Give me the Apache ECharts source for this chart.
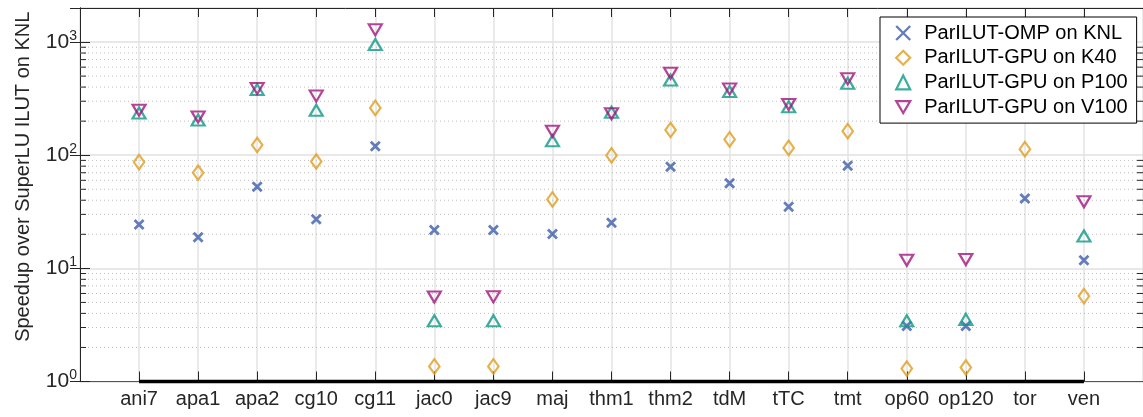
<!DOCTYPE html>
<html>
<head>
<meta charset="utf-8">
<script src="https://cdn.jsdelivr.net/npm/echarts@6/dist/echarts.min.js"></script>
<style>
html,body{margin:0;padding:0;background:#fff;}
#chart{width:1143px;height:417px;}
</style>
</head>
<body>
<div id="chart"></div>
<script>
// ---- data ----
const categories = ['ani7','apa1','apa2','cg10','cg11','jac0','jac9','maj','thm1','thm2','tdM','tTC','tmt','op60','op120','tor','ven'];
const knl  = [24.4, 18.8, 52.6, 27.1, 120, 21.8, 21.8, 20.1, 25.3, 79, 56.4, 35, 80.7, 3.1, 3.1, 41.5, 11.8];
const k40  = [87, 70, 123, 88, 262, 1.36, 1.36, 40.7, 99.6, 167, 138, 116, 163, 1.30, 1.33, 113, 5.69];
const p100 = [236, 205, 380, 250, 953, 3.44, 3.44, 134, 240, 461, 366, 268, 433, 3.44, 3.54, null, 19.3];
const v100 = [250, 218, 388, 333, 1282, 5.58, 5.6, 163, 233, 531, 384, 281, 473, 11.8, 12.0, null, 38.8];
const seriesNames = ['ParILUT-OMP on KNL','ParILUT-GPU on K40','ParILUT-GPU on P100','ParILUT-GPU on V100'];
const yMin = 1, yMax = 2000;
const minorVals = [];
[1,10,100,1000].forEach(d => { for (let m = 2; m <= 9; m++) { if (d*m < yMax) minorVals.push(d*m); } });

const FONT = "'Liberation Sans', Arial, Helvetica, sans-serif";
const AX = '#262626';
const toXY = arr => arr.map((v,i) => [i+1, v]).filter(p => p[1] != null);

const chart = echarts.init(document.getElementById('chart'), null, {renderer:'canvas'});

function markerSeries(name, data, symbol, size, color, bw){
  return {
    name: name, type: 'scatter', data: toXY(data),
    symbol: symbol, symbolSize: size,
    itemStyle: {color: 'rgba(0,0,0,0)', borderColor: color, borderWidth: bw},
    z: 5, silent: true, clip: false
  };
}

const option = {
  animation: false,
  backgroundColor: '#fff',
  textStyle: {fontFamily: FONT},
  grid: {left: 80, top: 8, width: 1065.6, height: 373.5, containLabel: false},
  legend: {
    data: [
      {name: seriesNames[0], itemStyle: {borderWidth: 2.4}},
      {name: seriesNames[1], itemStyle: {borderWidth: 2.2}},
      {name: seriesNames[2], itemStyle: {borderWidth: 2.2}},
      {name: seriesNames[3], itemStyle: {borderWidth: 2.2}}
    ],
    orient: 'vertical',
    left: 880, top: 17,
    backgroundColor: '#fff',
    borderColor: '#000', borderWidth: 1, borderRadius: 0,
    padding: [5, 9, 5, 15],
    itemWidth: 14, itemHeight: 14, itemGap: 2.7,
    selectedMode: false,
    textStyle: {fontSize: 20, color: '#000', fontFamily: FONT, lineHeight: 22, padding: [0,0,0,9]}
  },
  xAxis: [{
    type: 'value', min: 0, max: categories.length + 1, interval: 1, position: 'bottom',
    axisLine: {show: true, lineStyle: {color: '#555', width: 1}},
    axisTick: {show: true, inside: true, length: 10, lineStyle: {color: AX, width: 1}},
    axisLabel: {
      show: true, margin: 8, fontSize: 20, color: '#262626', fontFamily: FONT,
      showMinLabel: false, showMaxLabel: false,
      formatter: v => categories[Math.round(v) - 1] || ''
    },
    splitLine: {show: true, lineStyle: {color: '#e3e3e3', width: 1.5}}
  }, {
    type: 'value', min: 0, max: categories.length + 1, interval: 1, position: 'top',
    axisLine: {show: true, lineStyle: {color: AX, width: 1}},
    axisTick: {show: true, inside: true, length: 9, lineStyle: {color: AX, width: 1}},
    axisLabel: {show: false},
    splitLine: {show: false}
  }],
  yAxis: [{
    type: 'log', logBase: 10, min: yMin, max: yMax, position: 'left',
    name: 'Speedup over SuperLU ILUT on KNL',
    nameLocation: 'middle', nameGap: 47,
    nameTextStyle: {fontSize: 20, color: '#262626', fontFamily: FONT, padding: [0,0,0,36]},
    axisLine: {show: true, lineStyle: {color: AX, width: 1}},
    axisTick: {show: true, inside: true, length: 10, lineStyle: {color: AX, width: 1}},
    axisLabel: {
      show: true, margin: 3, color: '#262626', fontFamily: FONT,
      formatter: v => {
        const l = Math.log10(v), e = Math.round(l);
        if (Math.abs(l - e) > 1e-6) return '';
        return '{b|10}{s|' + e + '}';
      },
      rich: {
        b: {fontSize: 21, lineHeight: 26, color: '#262626', fontFamily: FONT},
        s: {fontSize: 14, lineHeight: 14, verticalAlign: 'top', color: '#262626', fontFamily: FONT}
      }
    },
    splitLine: {show: true, lineStyle: {color: '#e1e1e1', width: 1.5}}
  }, {
    type: 'log', logBase: 10, min: yMin, max: yMax, position: 'right',
    axisLine: {show: true, lineStyle: {color: AX, width: 1}},
    axisTick: {show: true, inside: true, length: 10, lineStyle: {color: AX, width: 1}},
    axisLabel: {show: false},
    splitLine: {show: false}
  }],
  series: [
    {
      name: 'minor', type: 'custom', silent: true, z: 1, clip: false,
      data: minorVals.map(v => [0, v]),
      encode: {x: 0, y: 1},
      renderItem: (params, api) => {
        const cs = params.coordSys;
        const y = api.coord([0, api.value(1)])[1];
        return {type: 'group', children: [
          {type: 'line', shape: {x1: cs.x, y1: y, x2: cs.x + cs.width, y2: y},
           style: {stroke: '#bdbdbd', lineWidth: 1, lineDash: [1, 3]}},
          {type: 'line', shape: {x1: cs.x, y1: y, x2: cs.x + 6, y2: y},
           style: {stroke: AX, lineWidth: 1}},
          {type: 'line', shape: {x1: cs.x + cs.width - 6, y1: y, x2: cs.x + cs.width, y2: y},
           style: {stroke: AX, lineWidth: 1}}
        ]};
      }
    },
    {
      name: 'baseline', type: 'line', silent: true, z: 4, clip: false,
      symbol: 'none',
      data: [[1, yMin], [categories.length, yMin]],
      lineStyle: {color: '#000', width: 3.5}
    },
    markerSeries(seriesNames[0], knl, 'path://M0,0L10,10M10,0L0,10', [9, 9], '#3d5daa', 2.8),
    markerSeries(seriesNames[1], k40, 'diamond', [10.5, 14.5], '#e09e1e', 2.2),
    markerSeries(seriesNames[2], p100, 'triangle', [13, 11], '#0e9886', 2.2),
    markerSeries(seriesNames[3], v100, 'path://M0,0L10,0L5,8.5Z', [13, 11], '#a1157d', 2.2)
  ]
};
chart.setOption(option);
</script>
</body>
</html>
